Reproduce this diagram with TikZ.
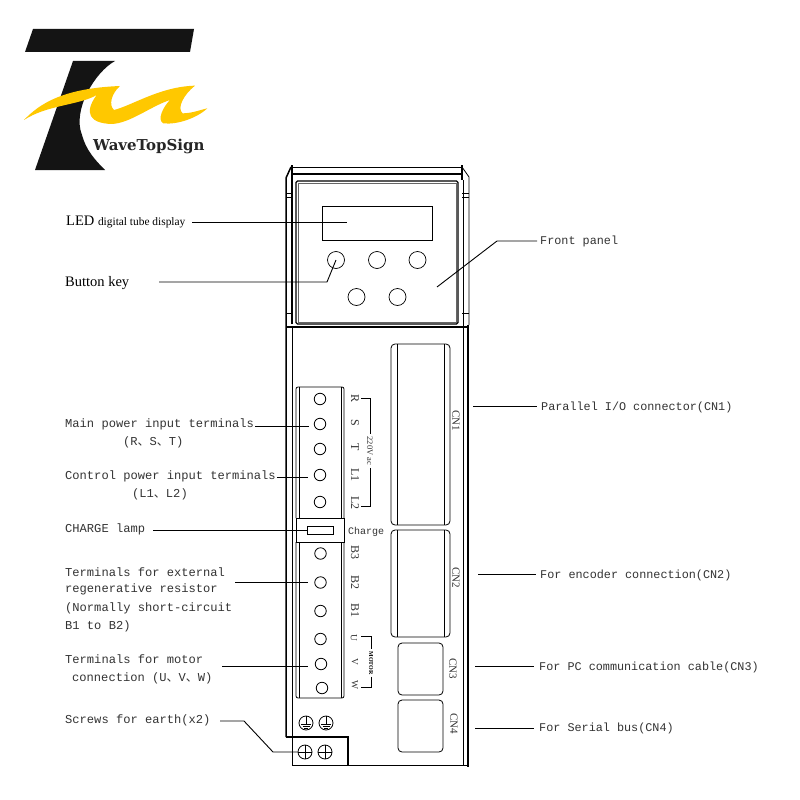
\documentclass[tikz,border=0pt]{standalone}
\usepackage{fontspec}
\setmainfont{Liberation Serif}
\setmonofont{Liberation Mono}
\newfontfamily\cjkf{Noto Sans CJK SC}
\newfontfamily\logof{DejaVu Serif}
\definecolor{txt}{HTML}{333333}
\definecolor{swoosh}{HTML}{FFC800}
\newcommand{\dn}{{\cjkf\fontsize{12}{12}\selectfont 、}}
\tikzset{
 x=1pt,y=-1pt,
 lbl/.style={anchor=base west,inner sep=0pt,text=txt,font=\ttfamily\fontsize{12.1}{14}\selectfont},
 lblr/.style={anchor=base west,inner sep=0pt,text=txt,font=\ttfamily\fontsize{11.8}{14}\selectfont},
 serifl/.style={anchor=base west,inner sep=0pt,text=black,font=\rmfamily\fontsize{14.5}{16}\selectfont},
 term/.style={rotate=-90,inner sep=0pt,text=txt,font=\rmfamily\fontsize{12}{13}\selectfont},
 termsm/.style={rotate=-90,inner sep=0pt,text=txt,font=\rmfamily\fontsize{9.5}{10}\selectfont},
 cnl/.style={rotate=-90,inner sep=0pt,text=txt,font=\rmfamily\fontsize{11}{12}\selectfont},
 leader/.style={draw=black,line width=0.9pt},
 thinl/.style={draw=black,line width=0.8pt},
 thickl/.style={draw=black,line width=1.5pt},
 hole/.style={draw=black,line width=0.8pt,circle,minimum size=11.5pt,inner sep=0pt},
 knob/.style={draw=black,line width=0.7pt,circle,minimum size=17pt,inner sep=0pt},
 screw/.style={draw=black,line width=0.8pt,circle,minimum size=14pt,inner sep=0pt},
 slot/.style={draw=black,line width=0.8pt,rounded corners=4pt},
}
\begin{document}
\begin{tikzpicture}
\useasboundingbox[fill=white] (0,0) rectangle (800,800);
% logo
\fill[black!92] (33,29) -- (194,29) -- (190,52) -- (25,52) -- cycle;
\fill[black!92] (73,61) -- (115,61) .. controls (95,72) and (72,110) .. (82,135) .. controls (86,150) and (95,160) .. (105,170) -- (35,170) -- cycle;
\begin{scope}[x=0.3333pt,y=-0.3333pt,yshift=-20pt]
\fill[swoosh] (72,300) .. controls (120,250) and (190,205) .. (360,198)
 .. controls (335,220) and (325,255) .. (342,270)
 .. controls (400,255) and (480,200) .. (585,197)
 .. controls (550,225) and (530,265) .. (548,280)
 .. controls (575,280) and (600,270) .. (622,265)
 .. controls (590,295) and (530,315) .. (490,310)
 .. controls (470,300) and (490,260) .. (510,240)
 .. controls (450,260) and (390,310) .. (335,312)
 .. controls (270,310) and (250,280) .. (290,225)
 .. controls (240,255) and (140,255) .. (72,300) -- cycle;
\end{scope}
\node[anchor=base west,inner sep=0pt,text=black!85,font=\logof\bfseries\fontsize{15}{17}\selectfont] (logotext) at (93,150) {WaveTopSign};
% housing
\draw[thickl] (286,737) -- (286,178) -- (291,167);
\draw[thinl] (292,765) -- (292,327);
\draw[thickl] (292,324) -- (292,165);
\draw[thinl] (291,167) -- (462,167);
\draw[thickl] (292,174) -- (462,174);
\draw[thickl] (462,165) -- (462,180);
\draw[thinl] (462,167) -- (469,177) -- (469,325);
\draw[thinl] (463,180) -- (463,765);
\draw[thickl] (468,325) -- (468,767);
\draw[thickl] (286,327) -- (468,327);
\draw[thickl] (286,737) -- (348,737) -- (348,765);
\draw[thinl] (292,765) -- (468,765);
\draw[thinl] (286,193) -- (292,193);\draw[thinl] (286,197) -- (292,197);
\draw[thinl] (286,313) -- (292,313);
\draw[thinl] (462,193) -- (469,193);\draw[thinl] (462,197) -- (469,197);
\draw[thinl] (462,313) -- (469,313);
% front panel
\draw[line width=1.2pt,rounded corners=1.5pt] (296,181) rectangle (458,324);
\draw[line width=0.5pt,black!60] (298,183) rectangle (456,322);
\node[draw=black,line width=0.9pt,minimum width=110pt,minimum height=34pt,inner sep=0pt] (disp) at (377,223) {};
\node[knob] (k1) at (336,260) {};
\node[knob] (k2) at (377,260) {};
\node[knob] (k3) at (417.5,260) {};
\node[knob] (k4) at (356.5,297) {};
\node[knob] (k5) at (397.5,297) {};
% terminal blocks
\draw[thinl,rounded corners=2pt] (296,518) -- (296,387) -- (344,387) -- (344,518);
\draw[thinl] (299,387) -- (299,518);
\draw[thinl] (341,387) -- (341,518);
\draw[thinl] (296,518) rectangle (344,542);
\node[draw=black,line width=0.8pt,minimum width=26pt,minimum height=8pt,inner sep=0pt] (lamp) at (320,530) {};
\draw[thinl,rounded corners=2pt] (296,542) -- (296,698) -- (344,698) -- (344,542);
\draw[thinl] (299,542) -- (299,698);
\draw[thinl] (341,542) -- (341,698);
\node[hole] (t1) at (320,399) {};
\node[hole] (t2) at (320,424) {};
\node[hole] (t3) at (320,449) {};
\node[hole] (t4) at (320,475) {};
\node[hole] (t5) at (320,502) {};
\node[hole] (t6) at (320.5,553.5) {};
\node[hole] (t7) at (320.5,582.5) {};
\node[hole] (t8) at (320.5,611) {};
\node[hole] (t9) at (320.5,639) {};
\node[hole] (t10) at (321,664) {};
\node[hole] (t11) at (322,688) {};
% terminal letters
\node[term] (lR) at (355,398) {R};
\node[term] (lS) at (355,423) {S};
\node[term] (lT) at (355,447) {T};
\node[term] (lL1) at (355,475) {L1};
\node[term] (lL2) at (355,503) {L2};
\node[term] (lB3) at (355,552) {B3};
\node[term] (lB2) at (355,582) {B2};
\node[term] (lB1) at (355,610) {B1};
\node[termsm] (lU) at (354,638) {U};
\node[termsm] (lV) at (355,662) {V};
\node[termsm] (lW) at (355,685) {W};
\node[lbl,font=\ttfamily\fontsize{10}{12}\selectfont] (chg) at (348,534) {Charge};
% brackets
\node[rotate=-90,inner sep=2.5pt,text=txt,font=\rmfamily\fontsize{8.5}{9}\selectfont] (v220) at (370,451) {220V ac};
\node[rotate=-90,inner sep=2pt,text=black,font=\rmfamily\bfseries\fontsize{6}{7}\selectfont] (mot) at (371,663) {MOTOR};
\draw[thinl] (361,398) -- (370,398) -- (v220.west);
\draw[thinl] (v220.east) -- (370,506) -- (361,506);
\draw[thinl] (361,636) -- (371,636) -- (mot.west);
\draw[thinl] (mot.east) -- (371,687) -- (361,687);
% connectors
\draw[slot] (391,344) rectangle (450,525);
\draw[thinl] (397,344) -- (397,525);
\draw[thinl] (444,344) -- (444,525);
\draw[slot] (391,530) rectangle (450,637);
\draw[thinl] (397,530) -- (397,637);
\draw[thinl] (444,530) -- (444,637);
\draw[slot] (398,643) rectangle (443,695);
\draw[slot] (398,700) rectangle (443,752);
\node[cnl] (cn1) at (456,421) {CN1};
\node[cnl] (cn2) at (456,578) {CN2};
\node[cnl] (cn3) at (453,669) {CN3};
\node[cnl] (cn4) at (454,724) {CN4};
% earth symbols and screws
\node[screw] (e1) at (306,723) {};
\node[screw] (e2) at (326,723) {};
\foreach \n in {e1,e2}{
 \draw[line width=0.6pt] (\n.north) -- ++(0,9);
 \draw[line width=0.6pt] ([shift={(-5,1.5)}]\n.center) -- ([shift={(5,1.5)}]\n.center);
 \draw[line width=0.6pt] ([shift={(-3.5,3.5)}]\n.center) -- ([shift={(3.5,3.5)}]\n.center);
 \draw[line width=0.6pt] ([shift={(-2,5)}]\n.center) -- ([shift={(2,5)}]\n.center);
}
\node[screw] (s1) at (305,752) {};
\node[screw] (s2) at (325,752) {};
\foreach \n in {s1,s2}{
 \draw[line width=0.7pt] (\n.north) -- (\n.south);
 \draw[line width=0.7pt] (\n.west) -- (\n.east);
}
% labels
\node[anchor=base west,inner sep=0pt] (led) at (66,225) {\fontsize{14.5}{16}\selectfont LED \fontsize{11.4}{13}\selectfont digital tube display};
\node[serifl] (btn) at (65,286) {Button key};
\node[lblr] (front) at (540,244) {Front panel};
\node[lblr] (par) at (541,410) {Parallel I/O connector(CN1)};
\node[lblr] (enc) at (540,578) {For encoder connection(CN2)};
\node[lblr] (pc) at (539,670) {For PC communication cable(CN3)};
\node[lblr] (ser) at (539,731) {For Serial bus(CN4)};
\node[lbl] (main) at (65,427) {Main power input terminals};
\node[lbl] (main2) at (123,445) {(R\dn S\dn T)};
\node[lbl] (ctrl) at (65,479) {Control power input terminals};
\node[lbl] (ctrl2) at (132,497) {(L1\dn L2)};
\node[lbl] (lampl) at (65,532) {CHARGE lamp};
\node[lbl] (ext1) at (65,576) {Terminals for external};
\node[lbl] (ext2) at (65,592) {regenerative resistor};
\node[lbl] (ext3) at (65,611) {(Normally short-circuit};
\node[lbl] (ext4) at (65,629) {B1 to B2)};
\node[lbl] (mo1) at (65,663) {Terminals for motor};
\node[lbl] (mo2) at (72,681) {connection (U\dn V\dn W)};
\node[lbl] (scr) at (65,723) {Screws for earth(x2)};
% leaders
\coordinate (ledS) at (192,222);
\coordinate (ledE) at (347,222);
\coordinate (btnS) at (159,282);
\coordinate (btnM) at (327,282);
\coordinate (frE) at (437,287);
\coordinate (frM) at (497,241);
\coordinate (frS) at (537,241);
\coordinate (mainE) at (309,426);
\coordinate (ctrlE) at (308,477);
\coordinate (lampS) at (153,530);
\coordinate (extS) at (235,582);
\coordinate (extE) at (308,582);
\coordinate (moS) at (222,666);
\coordinate (moE) at (308,666);
\coordinate (scrS) at (220,721);
\coordinate (scrM) at (244,721);
\coordinate (scrN) at (273,752);
\draw[leader] (ledS) -- (ledE);
\draw[leader] (btnS) -- (btnM) -- (k1.center);
\draw[leader] (frE) -- (frM) -- (frS);
\draw[leader] (main.base east) ++(1,-1) -- (mainE);
\draw[leader] (ctrl.base east) ++(1,-2) -- (ctrlE);
\draw[leader] (lampS) -- (lamp.west);
\draw[leader] (extS) -- (extE);
\draw[leader] (moS) -- (moE);
\draw[leader] (scrS) -- (scrM) -- (scrN) -- (s1.west);
\coordinate (parS) at (473,406);
\coordinate (parE) at (537,406);
\coordinate (encS) at (478,574);
\coordinate (encE) at (536,574);
\coordinate (pcS) at (475,666);
\coordinate (pcE) at (534,666);
\coordinate (serS) at (475,728);
\coordinate (serE) at (534,728);
\draw[leader] (parS) -- (parE);
\draw[leader] (encS) -- (encE);
\draw[leader] (pcS) -- (pcE);
\draw[leader] (serS) -- (serE);
\end{tikzpicture}
\end{document}
